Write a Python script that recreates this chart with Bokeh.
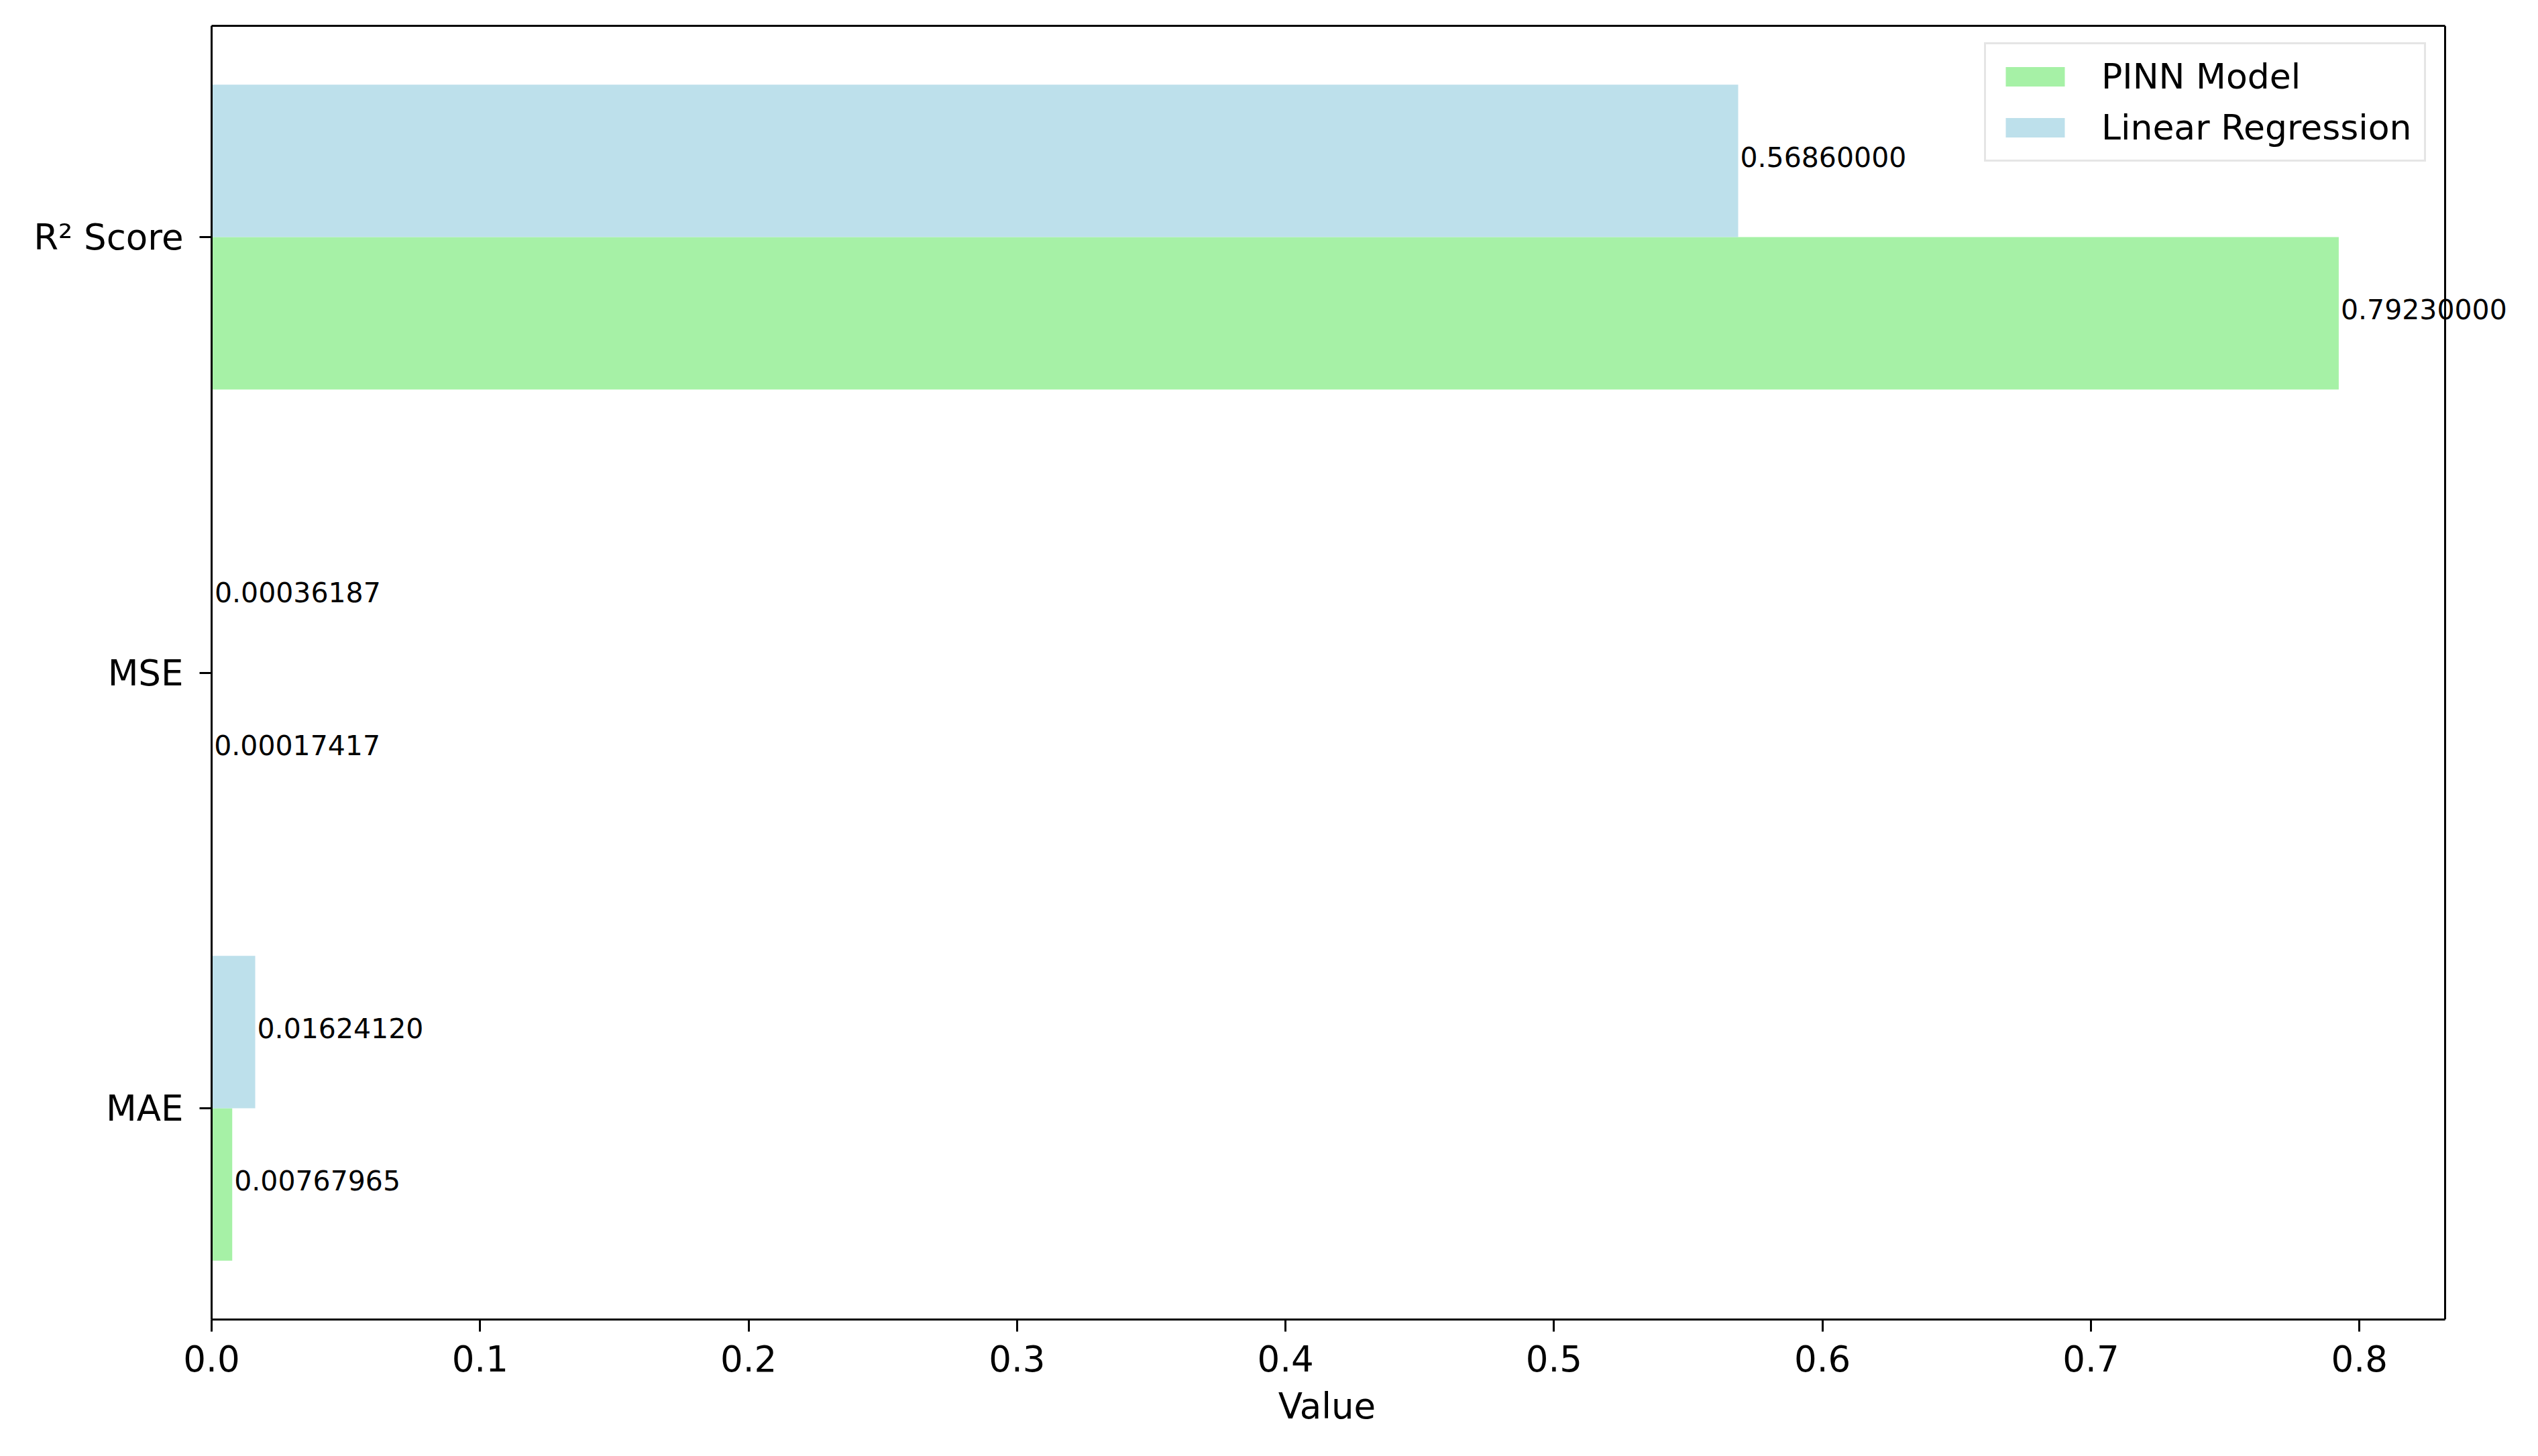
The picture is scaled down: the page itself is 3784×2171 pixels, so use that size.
from bokeh.plotting import figure
from bokeh.models import (ColumnDataSource, FixedTicker, Range1d, Legend,
                          LegendItem, Label, LinearAxis, Span, Title)
from bokeh.embed import file_html
from bokeh.resources import INLINE

# ---- data ----
metrics = ["MAE", "MSE", "R² Score"]
pinn_values = [0.00767965, 0.00017417, 0.7923]
lr_values = [0.0162412, 0.00036187, 0.5686]
series_names = ["PINN Model", "Linear Regression"]
x_ticks = [0.0, 0.1, 0.2, 0.3, 0.4, 0.5, 0.6, 0.7, 0.8]
x_tick_labels = ["0.0", "0.1", "0.2", "0.3", "0.4", "0.5", "0.6", "0.7", "0.8"]
x_axis_label = "Value"

# ---- layout constants ----
bar_h = 0.35
FONT = "DejaVu Sans"
GREEN = "#90EE90"
BLUE = "#ADD8E6"
AXES_W = 3330          # visible axes box width (px)
EXTRA_W = 100          # extra room right of the box so labels are not clipped
LABEL_FS = 53

idx = list(range(len(metrics)))
pinn_y = [i - bar_h / 2 for i in idx]
lr_y = [i + bar_h / 2 for i in idx]
pinn_src = ColumnDataSource(dict(y=pinn_y, x=pinn_values))
lr_src = ColumnDataSource(dict(y=lr_y, x=lr_values))

xmax = max(max(pinn_values), max(lr_values)) * 1.05
xend = xmax * (AXES_W + EXTRA_W) / AXES_W
ylo = -bar_h
yhi = len(metrics) - 1 + bar_h
ypad = (yhi - ylo) * 0.05

p = figure(frame_width=AXES_W + EXTRA_W, frame_height=1929,
           min_border_left=315, min_border_top=38,
           min_border_right=10, min_border_bottom=190,
           x_range=Range1d(0, xend), y_range=Range1d(ylo - ypad, yhi + ypad),
           output_backend="svg", toolbar_location=None,
           background_fill_color="white", border_fill_color="white")
p.outline_line_color = None

r1 = p.hbar(y="y", right="x", left=0, height=bar_h, source=pinn_src,
            fill_color=GREEN, fill_alpha=0.8, line_color=None)
r2 = p.hbar(y="y", right="x", left=0, height=bar_h, source=lr_src,
            fill_color=BLUE, fill_alpha=0.8, line_color=None)

# value labels
for xs, ys in ((pinn_values, pinn_y), (lr_values, lr_y)):
    for xv, yv in zip(xs, ys):
        p.add_layout(Label(x=xv, y=yv, text=f"{xv:.8f}", x_offset=3,
                           y_offset=6,
                           text_align="left", text_baseline="middle",
                           text_font=FONT, text_font_size="41px",
                           text_color="black"))

p.xgrid.visible = False
p.ygrid.visible = False

# x axis
xa = p.xaxis[0]
xa.ticker = FixedTicker(ticks=x_ticks, minor_ticks=[])
xa.major_label_overrides = {t: l for t, l in zip(x_ticks, x_tick_labels)}
xa.bounds = (0, xmax)
# y axis
ya = p.yaxis[0]
ya.ticker = FixedTicker(ticks=idx, minor_ticks=[])
ya.major_label_overrides = {i: m for i, m in zip(idx, metrics)}

for ax in (xa, ya):
    ax.axis_line_color = "black"
    ax.axis_line_width = 3
    ax.major_tick_line_color = "black"
    ax.major_tick_line_width = 3
    ax.major_tick_out = 18
    ax.major_tick_in = 0
    ax.minor_tick_out = 0
    ax.minor_tick_in = 0
    ax.major_label_text_font = FONT
    ax.major_label_text_font_size = f"{LABEL_FS}px"
    ax.major_label_text_color = "black"
xa.major_label_standoff = 20
ya.major_label_standoff = 24

# x axis title, centred under the visible axes box
label_w = 2.824 * LABEL_FS   # approx. width of "Value" in DejaVu Sans
p.add_layout(Title(text=x_axis_label, align="left",
                   offset=AXES_W / 2 - label_w / 2,
                   text_font=FONT, text_font_size=f"{LABEL_FS}px",
                   text_font_style="normal", text_color="black",
                   standoff=32), "below")

# top spine and right spine
top = LinearAxis(ticker=FixedTicker(ticks=[], minor_ticks=[]),
                 bounds=(0, xmax), axis_line_color="black", axis_line_width=3,
                 major_label_text_font_size="0px", major_tick_line_color=None,
                 minor_tick_line_color=None)
p.add_layout(top, "above")
p.add_layout(Span(location=xmax, dimension="height", line_color="black",
                  line_width=3))

legend = Legend(items=[LegendItem(label=series_names[0], renderers=[r1]),
                       LegendItem(label=series_names[1], renderers=[r2])],
                location=(2643, 1726))
legend.label_text_font = FONT
legend.label_text_font_size = "52px"
legend.label_text_color = "black"
legend.glyph_width = 110
legend.glyph_height = 36
legend.spacing = 16
legend.padding = 18
legend.margin = 0
legend.label_standoff = 44
legend.border_line_color = "#cccccc"
legend.border_line_width = 3
legend.background_fill_color = "white"
legend.background_fill_alpha = 0.8
p.add_layout(legend)

open("out.html", "w").write(file_html(p, INLINE))
